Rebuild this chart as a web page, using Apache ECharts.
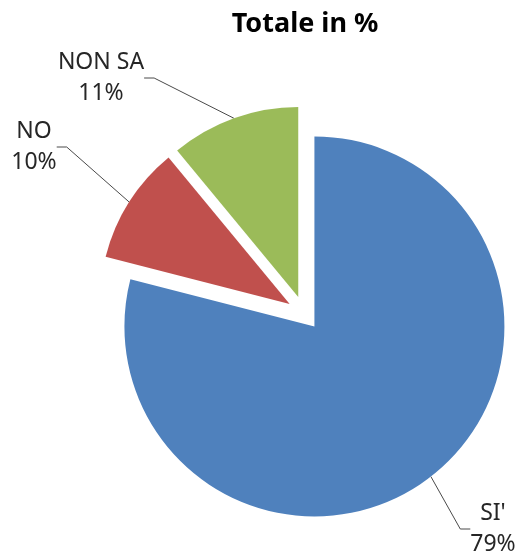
<!DOCTYPE html>
<html>
<head>
<meta charset="utf-8">
<script src="https://cdn.jsdelivr.net/npm/echarts@6/dist/echarts.min.js"></script>
<style>
html,body{margin:0;padding:0;background:#fff;}
#c{width:519px;height:554px;}
</style>
</head>
<body>
<div id="c"></div>
<script>
const titleText = 'Totale in %';
const categories = ["SI'", 'NO', 'NON SA'];
const values = [79, 10, 11];
const colors = ['#4F81BD', '#C0504D', '#9BBB59'];
const labelPos = [[493, 529], [34, 147], [101, 78]];

const baseCenter = [304, 313];
const explode = 17;
const total = values.reduce((a, b) => a + b, 0);

function sliceCenter(i) {
  let before = 0;
  for (let k = 0; k < i; k++) before += values[k];
  const midFrac = (before + values[i] / 2) / total;
  const ang = (90 - midFrac * 360) * Math.PI / 180;
  return [baseCenter[0] + explode * Math.cos(ang), baseCenter[1] - explode * Math.sin(ang)];
}

const series = categories.map((cat, i) => ({
  type: 'pie',
  center: sliceCenter(i),
  radius: [0, 190],
  startAngle: 90,
  clockwise: true,
  avoidLabelOverlap: false,
  selectedMode: false,
  emphasis: {disabled: true},
  data: categories.map((c, j) => ({
    name: c,
    value: values[j],
    itemStyle: {color: j === i ? colors[j] : 'rgba(0,0,0,0)'},
    label: {show: j === i},
    labelLine: {show: j === i}
  })),
  label: {
    position: 'outside',
    formatter: p => p.name + '\n' + Math.round(p.percent) + '%',
    fontFamily: 'Noto Sans',
    fontSize: 23,
    lineHeight: 31,
    color: '#262626',
    align: 'center'
  },
  labelLine: {length: 20, length2: 10, lineStyle: {color: '#4a4a4a', width: 1}},
  labelLayout: function (p) {
    const pos = labelPos[p.dataIndex];
    return {x: pos[0], y: pos[1], align: 'center', verticalAlign: 'middle'};
  }
}));

const chart = echarts.init(document.getElementById('c'), null, {renderer: 'canvas'});
chart.setOption({
  animation: false,
  backgroundColor: '#ffffff',
  tooltip: {show: false},
  title: {
    text: titleText,
    left: 300,
    top: 6,
    textAlign: 'center',
    textStyle: {fontFamily: 'Noto Sans', fontWeight: 'bold', fontSize: 27, color: '#000'}
  },
  series: series
});
</script>
</body>
</html>
